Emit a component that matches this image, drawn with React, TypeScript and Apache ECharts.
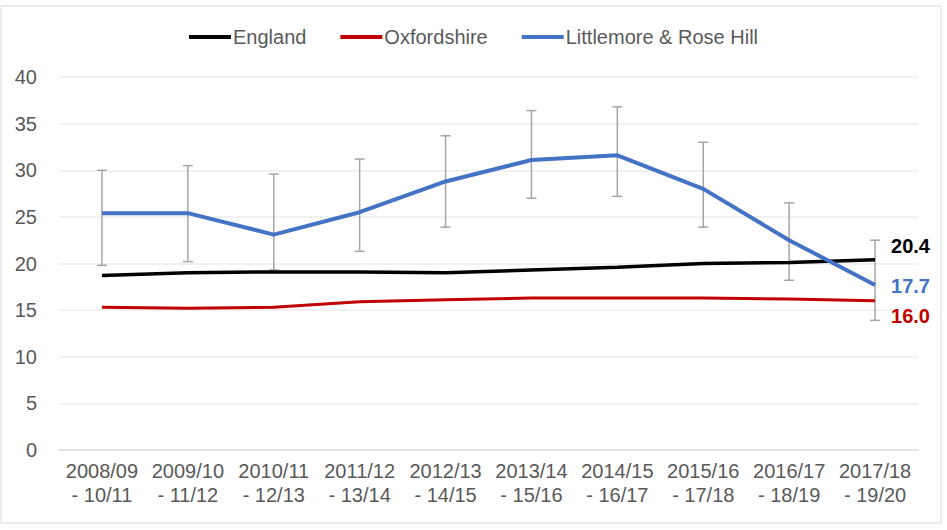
import React, { useEffect, useRef } from "react";
import * as echarts from "echarts";

const categories = [
  "2008/09\n- 10/11",
  "2009/10\n- 11/12",
  "2010/11\n- 12/13",
  "2011/12\n- 13/14",
  "2012/13\n- 14/15",
  "2013/14\n- 15/16",
  "2014/15\n- 16/17",
  "2015/16\n- 17/18",
  "2016/17\n- 18/19",
  "2017/18\n- 19/20",
];

const england = [18.7, 19.0, 19.1, 19.1, 19.0, 19.3, 19.6, 20.0, 20.1, 20.4];
const oxfordshire = [15.3, 15.2, 15.3, 15.9, 16.1, 16.3, 16.3, 16.3, 16.2, 16.0];
const littlemore = [25.4, 25.4, 23.1, 25.5, 28.8, 31.1, 31.6, 28.0, 22.5, 17.7];
const errLow = [19.8, 20.2, 19.3, 21.3, 23.9, 27.0, 27.2, 23.9, 18.2, 13.9];
const errHigh = [30.0, 30.5, 29.6, 31.2, 33.7, 36.4, 36.8, 33.0, 26.5, 22.5];

const FONT = "'Liberation Sans', Arial, sans-serif";
const GREY = "#595959";

export default function App() {
  const ref = useRef<HTMLDivElement>(null);
  useEffect(() => {
    if (!ref.current) return;
    const chart = echarts.init(ref.current, undefined, { renderer: "svg" });
    const endLabel = (color: string, dy: number) => ({
      show: true,
      distance: 16,
      offset: [0, dy],
      color,
      fontWeight: "bold",
      fontSize: 20,
      fontFamily: FONT,
      formatter: (p: any) => Number(p.value).toFixed(1),
    });
    chart.setOption({
      animation: false,
      backgroundColor: "#ffffff",
      textStyle: { fontFamily: FONT },
      graphic: [
        {
          type: "rect",
          shape: { x: 1, y: 6, width: 940, height: 517 },
          style: { fill: "none", stroke: "#e6e6e6", lineWidth: 1.5 },
          silent: true,
          z: -1,
        },
      ],
      legend: {
        top: 22,
        left: "center",
        icon: "rect",
        itemWidth: 42,
        itemHeight: 4,
        itemGap: 34,
        data: ["England", "Oxfordshire", "Littlemore & Rose Hill"],
        textStyle: { color: GREY, fontSize: 20, fontFamily: FONT, padding: [0, 0, 0, -3] },
      },
      grid: { left: 59, right: 29, top: 77, bottom: 80 },
      xAxis: {
        type: "category",
        data: categories,
        boundaryGap: true,
        axisLine: { show: true, lineStyle: { color: "#e6e6e6", width: 2 } },
        axisTick: { show: false },
        axisLabel: { color: GREY, fontSize: 20, lineHeight: 24, margin: 9, interval: 0, fontFamily: FONT },
      },
      yAxis: {
        type: "value",
        min: 0,
        max: 40,
        interval: 5,
        axisLine: { show: false },
        axisTick: { show: false },
        axisLabel: { color: GREY, fontSize: 20, margin: 22, fontFamily: FONT },
        splitLine: { lineStyle: { color: "#ececec", width: 1.5 } },
      },
      series: [
        {
          name: "error",
          type: "custom",
          data: errLow.map((lo, i) => [i, lo, errHigh[i]]),
          renderItem: (params: any, api: any) => {
            const x = api.value(0);
            const lo = api.coord([x, api.value(1)]);
            const hi = api.coord([x, api.value(2)]);
            const cw = 5;
            const style = { stroke: "#a6a6a6", lineWidth: 1.5 };
            return {
              type: "group",
              children: [
                { type: "line", shape: { x1: lo[0], y1: lo[1], x2: hi[0], y2: hi[1] }, style },
                { type: "line", shape: { x1: lo[0] - cw, y1: lo[1], x2: lo[0] + cw, y2: lo[1] }, style },
                { type: "line", shape: { x1: hi[0] - cw, y1: hi[1], x2: hi[0] + cw, y2: hi[1] }, style },
              ],
            };
          },
          z: 1,
        },
        {
          name: "England",
          type: "line",
          data: england,
          color: "#000000",
          symbol: "none",
          lineStyle: { color: "#000000", width: 3.5 },
          endLabel: endLabel("#000000", -14),
          z: 3,
        },
        {
          name: "Oxfordshire",
          type: "line",
          data: oxfordshire,
          color: "#c00000",
          symbol: "none",
          lineStyle: { color: "#c00000", width: 3 },
          endLabel: endLabel("#c00000", 15),
          z: 3,
        },
        {
          name: "Littlemore & Rose Hill",
          type: "line",
          data: littlemore,
          color: "#4472c4",
          symbol: "none",
          lineStyle: { color: "#4472c4", width: 4 },
          endLabel: endLabel("#4472c4", 1),
          z: 4,
        },
      ],
    });
    return () => chart.dispose();
  }, []);
  return (
    <div
      ref={ref}
      style={{ position: "absolute", left: 0, top: 0, width: 947, height: 530 }}
    />
  );
}
